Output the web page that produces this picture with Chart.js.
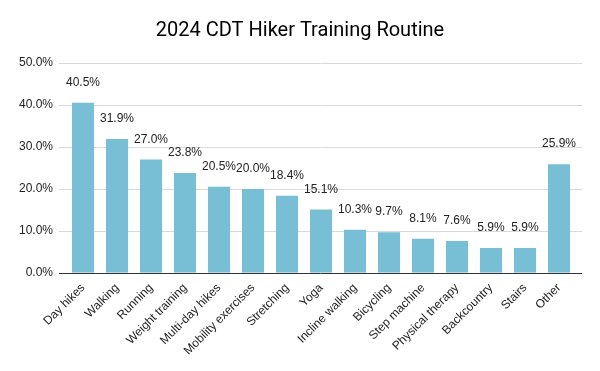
<!DOCTYPE html>
<html>
<head>
<meta charset="utf-8">
<script src="https://cdn.jsdelivr.net/npm/chart.js@4"></script>
<style>
  html, body { margin: 0; padding: 0; background: #fff; }
  #wrap { width: 600px; height: 371px; }
</style>
</head>
<body>
<div id="wrap"><canvas id="routineChart" width="600" height="371"></canvas></div>
<script>
const chartTitle = "2024 CDT Hiker Training Routine";
const categories = ["Day hikes", "Walking", "Running", "Weight training", "Multi-day hikes",
  "Mobility exercises", "Stretching", "Yoga", "Incline walking", "Bicycling",
  "Step machine", "Physical therapy", "Backcountry", "Stairs", "Other"];
const shares = [40.5, 31.9, 27.0, 23.8, 20.5, 20.0, 18.4, 15.1, 10.3, 9.7, 8.1, 7.6, 5.9, 5.9, 25.9];
const yTicks = [0, 10, 20, 30, 40, 50];

const labelFont = "Liberation Sans, Arial, sans-serif";

// title centred on the whole canvas (the built-in one centres between the paddings)
const pageTitle = {
  id: "pageTitle",
  afterDraw(chart) {
    const ctx = chart.ctx;
    ctx.save();
    ctx.font = "20px Roboto";
    ctx.fillStyle = "#000";
    ctx.textAlign = "center";
    ctx.textBaseline = "middle";
    ctx.fillText(chartTitle, chart.width / 2, 31);
    ctx.restore();
  },
};

// gridlines reach a bit past the bars on both sides, like the sheet chart
const wideGrid = {
  id: "wideGrid",
  beforeDatasetsDraw(chart) {
    const { ctx, chartArea, scales } = chart;
    ctx.save();
    ctx.lineWidth = 1;
    ctx.strokeStyle = "#d9d9d9";
    yTicks.forEach((v) => {
      if (v === 0) return;
      const y = Math.round(scales.y.getPixelForValue(v)) + 0.5;
      ctx.beginPath();
      ctx.moveTo(chartArea.left - 7, y);
      ctx.lineTo(chartArea.right + 6, y);
      ctx.stroke();
    });
    ctx.restore();
  },
  afterDatasetsDraw(chart) {
    const { ctx, chartArea, scales } = chart;
    const y = Math.round(scales.y.getPixelForValue(0)) + 0.5;
    ctx.save();
    ctx.strokeStyle = "#333";
    ctx.lineWidth = 1;
    ctx.beginPath();
    ctx.moveTo(chartArea.left - 7, y);
    ctx.lineTo(chartArea.right + 6, y);
    ctx.stroke();
    ctx.restore();
  },
};

// labels above each bar
const valueLabels = {
  id: "valueLabels",
  afterDatasetsDraw(chart) {
    const ctx = chart.ctx;
    const meta = chart.getDatasetMeta(0);
    ctx.save();
    ctx.font = "12px " + labelFont;
    ctx.fillStyle = "#222";
    ctx.textAlign = "center";
    ctx.textBaseline = "middle";
    meta.data.forEach((bar, i) => {
      ctx.fillText(shares[i].toFixed(1) + "%", bar.x, bar.y - 20);
    });
    ctx.restore();
  },
};

const ctx = document.getElementById("routineChart").getContext("2d");
new Chart(ctx, {
  type: "bar",
  data: {
    labels: categories,
    datasets: [
      {
        data: shares,
        backgroundColor: "#78bfd6",
        barPercentage: 0.65,
        categoryPercentage: 1,
      },
    ],
  },
  options: {
    responsive: false,
    animation: false,
    layout: { padding: { left: 6, right: 24, top: 63, bottom: 5 } },
    plugins: {
      legend: { display: false },
      tooltip: { enabled: false },
      title: { display: false },
    },
    scales: {
      x: {
        grid: { display: false, drawTicks: false },
        border: { display: false },
        ticks: {
          color: "#222",
          font: { family: labelFont, size: 12 },
          minRotation: 45,
          maxRotation: 45,
          padding: 8,
        },
      },
      y: {
        min: 0,
        max: 50,
        afterBuildTicks: (axis) => {
          axis.ticks = yTicks.map((v) => ({ value: v }));
        },
        grid: { display: false, drawTicks: false },
        border: { display: false },
        ticks: {
          color: "#222",
          font: { family: labelFont, size: 12 },
          padding: 13,
          callback: (v) => v.toFixed(1) + "%",
        },
      },
    },
  },
  plugins: [wideGrid, valueLabels, pageTitle],
});
</script>
</body>
</html>
